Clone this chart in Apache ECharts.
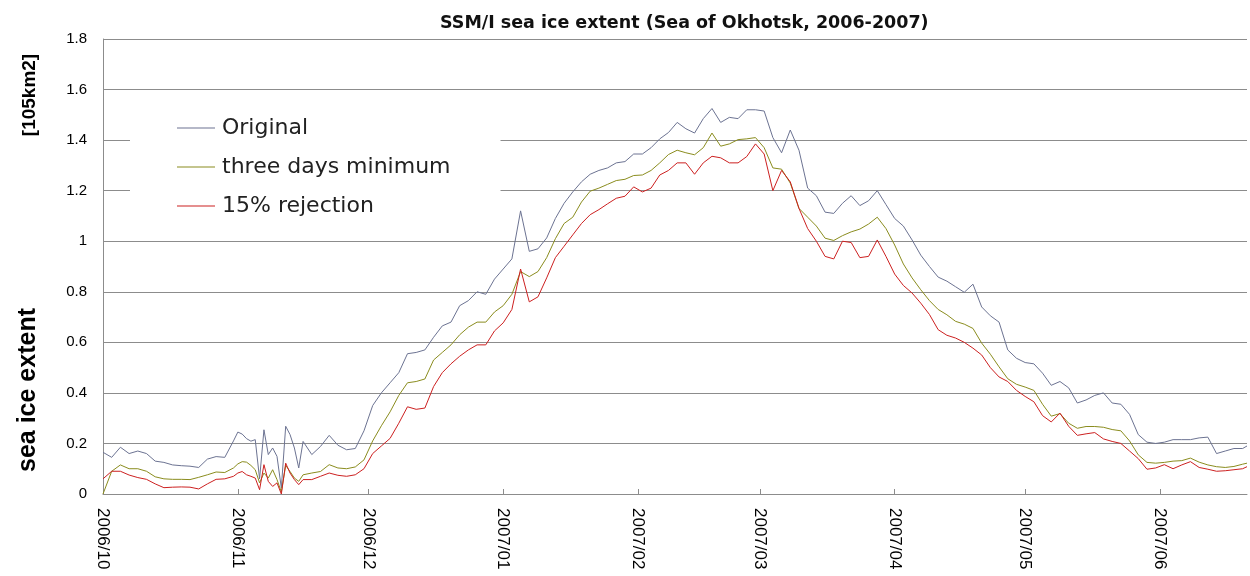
<!DOCTYPE html>
<html>
<head>
<meta charset="utf-8">
<style>
  html, body { margin: 0; padding: 0; background: #fff; }
  #chart { width: 1250px; height: 576px; }
</style>
<script src="https://cdn.jsdelivr.net/npm/echarts@6/dist/echarts.min.js"></script>
</head>
<body>
<div id="chart"></div>
<script>
// day offsets from 2006/10/01 (daily through the noisy part of November)
const days = [
  0, 2, 4, 6, 8, 10, 12, 14, 16, 18, 20, 22, 24, 26, 28, 30,
  31, 32, 33, 34, 35, 36, 37, 38, 39, 40, 41, 42, 43, 44, 45, 46,
  48, 50, 52, 54, 56, 58, 60, 62, 64, 66, 68, 70, 72, 74, 76, 78, 80, 82, 84, 86, 88, 90, 92, 94, 96, 98,
  100, 102, 104, 106, 108, 110, 112, 114, 116, 118, 120, 122, 124, 126, 128, 130, 132, 134, 136, 138, 140, 142, 144, 146, 148,
  150, 152, 154, 156, 158, 160, 162, 164, 166, 168, 170, 172, 174, 176, 178, 180, 182, 184, 186, 188, 190, 192, 194, 196, 198,
  200, 202, 204, 206, 208, 210, 212, 214, 216, 218, 220, 222, 224, 226, 228, 230, 232, 234, 236, 238, 240, 242, 244, 246, 248,
  250, 252, 254, 256, 258, 260, 262, 263
];
const original = [
  0.165, 0.145, 0.185, 0.16, 0.17, 0.16, 0.13, 0.125, 0.115, 0.112, 0.11, 0.105, 0.138, 0.148, 0.145, 0.21,
  0.245, 0.237, 0.219, 0.209, 0.215, 0.06, 0.254, 0.156, 0.182, 0.149, 0.024, 0.268, 0.235, 0.182, 0.103, 0.208,
  0.156, 0.188, 0.232, 0.193, 0.175, 0.18, 0.25, 0.35, 0.40, 0.44, 0.48, 0.555, 0.56, 0.57, 0.62, 0.665, 0.68, 0.745, 0.765, 0.80, 0.79, 0.85, 0.89, 0.93, 1.12, 0.96,
  0.97, 1.013, 1.09, 1.15, 1.195, 1.235, 1.265, 1.28, 1.29, 1.31, 1.315, 1.345, 1.345, 1.37, 1.405, 1.43, 1.47, 1.445, 1.428, 1.485, 1.525, 1.47, 1.49, 1.485, 1.52,
  1.52, 1.515, 1.41, 1.35, 1.44, 1.36, 1.21, 1.18, 1.115, 1.11, 1.15, 1.18, 1.141, 1.16, 1.2, 1.145, 1.09, 1.06, 1.005, 0.945, 0.9, 0.858, 0.842, 0.82, 0.798,
  0.83, 0.74, 0.705, 0.68, 0.57, 0.537, 0.52, 0.515, 0.478, 0.43, 0.445, 0.42, 0.36, 0.372, 0.39, 0.40, 0.36, 0.355, 0.315, 0.235, 0.205, 0.2, 0.205, 0.215, 0.215,
  0.215, 0.222, 0.225, 0.16, 0.17, 0.18, 0.18, 0.19
];
const threeDayMin = [
  0.0, 0.09, 0.115, 0.1, 0.1, 0.09, 0.068, 0.06, 0.058, 0.058, 0.057, 0.066, 0.076, 0.087, 0.085, 0.103,
  0.119, 0.128, 0.126, 0.113, 0.096, 0.044, 0.083, 0.063, 0.096, 0.057, 0.008, 0.113, 0.089, 0.063, 0.05, 0.076,
  0.083, 0.089, 0.116, 0.103, 0.1, 0.107, 0.135, 0.21, 0.27, 0.325, 0.39, 0.44, 0.445, 0.455, 0.53, 0.56, 0.59, 0.63, 0.66, 0.68, 0.68, 0.72, 0.745, 0.79, 0.88, 0.86,
  0.88, 0.935, 1.01, 1.07, 1.095, 1.155, 1.198, 1.21, 1.225, 1.24, 1.245, 1.26, 1.262, 1.28, 1.31, 1.343, 1.36, 1.35, 1.342, 1.37, 1.428, 1.376, 1.385, 1.402, 1.405,
  1.41, 1.37, 1.29, 1.285, 1.23, 1.13, 1.095, 1.06, 1.012, 1.003, 1.022, 1.037, 1.048, 1.068, 1.095, 1.05, 0.985, 0.91, 0.855, 0.808, 0.765, 0.73, 0.709, 0.683, 0.672,
  0.655, 0.597, 0.553, 0.503, 0.456, 0.434, 0.423, 0.41, 0.355, 0.308, 0.318, 0.28, 0.26, 0.267, 0.267, 0.264, 0.255, 0.25, 0.21, 0.155, 0.125, 0.122, 0.125, 0.13, 0.132,
  0.142, 0.126, 0.115, 0.108, 0.105, 0.109, 0.118, 0.122
];
const rejection15 = [
  0.06, 0.09, 0.09, 0.075, 0.065, 0.058, 0.04, 0.025, 0.027, 0.028, 0.027, 0.02, 0.04, 0.058, 0.06, 0.07,
  0.083, 0.089, 0.076, 0.07, 0.063, 0.017, 0.116, 0.05, 0.03, 0.044, 0.0, 0.122, 0.083, 0.057, 0.037, 0.057,
  0.057, 0.07, 0.083, 0.074, 0.07, 0.076, 0.10, 0.16, 0.19, 0.22, 0.28, 0.345, 0.335, 0.34, 0.425, 0.48, 0.515, 0.545, 0.57, 0.59, 0.59, 0.645, 0.677, 0.73, 0.89, 0.76,
  0.78, 0.855, 0.935, 0.98, 1.025, 1.07, 1.105, 1.125, 1.148, 1.17, 1.178, 1.215, 1.195, 1.21, 1.262, 1.28, 1.31, 1.31, 1.265, 1.31, 1.336, 1.33, 1.31, 1.31, 1.335,
  1.385, 1.345, 1.2, 1.28, 1.235, 1.13, 1.05, 1.0, 0.94, 0.93, 1.0, 0.995, 0.935, 0.94, 1.005, 0.94, 0.87, 0.825, 0.795, 0.755, 0.71, 0.65, 0.628, 0.617, 0.6,
  0.577, 0.55, 0.5, 0.463, 0.445, 0.41, 0.386, 0.365, 0.31, 0.285, 0.32, 0.268, 0.232, 0.238, 0.243, 0.218, 0.208, 0.2, 0.17, 0.14, 0.098, 0.103, 0.116, 0.1, 0.115,
  0.128, 0.105, 0.098, 0.09, 0.092, 0.096, 0.1, 0.108
];
const seriesNames = ["Original", "three days minimum", "15% rejection"];
const seriesColors = ["#6c7392", "#8a8c1e", "#cc2020"];
const monthStarts = [0, 31, 61, 92, 123, 151, 182, 212, 243];
const monthLabels = ["2006/10", "2006/11", "2006/12", "2007/01", "2007/02", "2007/03", "2007/04", "2007/05", "2007/06"];
const lastDay = 263;

function pairs(values) {
  return days.map((d, i) => [d, values[i]]);
}

const chart = echarts.init(document.getElementById("chart"));
const gridColor = "#8c8c8c";

chart.setOption({
  animation: false,
  backgroundColor: "#fff",
  title: {
    text: "SSM/I sea ice extent (Sea of Okhotsk, 2006-2007)",
    left: 435,
    top: 9,
    textStyle: { fontFamily: "DejaVu Sans", fontWeight: "bold", fontSize: 17.5, color: "#111" }
  },
  legend: {
    orient: "vertical",
    left: 130,
    top: 102,
    padding: [15, 50, 10, 47],
    backgroundColor: "#fff",
    icon: "rect",
    itemWidth: 38,
    itemHeight: 1,
    itemGap: 17,
    data: seriesNames,
    textStyle: { fontFamily: "DejaVu Sans", fontSize: 22, lineHeight: 22, color: "#222", padding: [0, 0, 0, 2] }
  },
  grid: { left: 103, right: 3, top: 39, bottom: 82 },
  xAxis: {
    type: "value",
    min: 0,
    max: lastDay,
    splitLine: { show: false },
    axisLine: { lineStyle: { color: gridColor } },
    axisTick: { show: true, inside: true, length: 5, customValues: monthStarts, lineStyle: { color: gridColor } },
    axisLabel: {
      customValues: monthStarts,
      rotate: -90,
      margin: 14,
      fontFamily: "Liberation Sans",
      fontSize: 17,
      color: "#000",
      formatter: v => monthLabels[monthStarts.indexOf(v)]
    }
  },
  yAxis: {
    type: "value",
    min: 0,
    max: 1.8,
    interval: 0.2,
    axisLine: { show: true, lineStyle: { color: gridColor } },
    axisTick: { show: false },
    splitLine: { lineStyle: { color: gridColor } },
    axisLabel: {
      margin: 16,
      fontFamily: "Liberation Sans",
      fontSize: 15,
      color: "#000",
      formatter: v => String(parseFloat(v.toFixed(1)))
    }
  },
  graphic: [
    {
      type: "text", x: 30, y: 95, rotation: Math.PI / 2,
      style: { text: "[105km2]", font: "bold 19px 'Liberation Sans'", fill: "#000", align: "center", verticalAlign: "middle" }
    },
    {
      type: "text", x: 28, y: 390, rotation: Math.PI / 2,
      style: { text: "sea ice extent", font: "bold 25px 'Liberation Sans'", fill: "#000", align: "center", verticalAlign: "middle" }
    }
  ],
  series: [original, threeDayMin, rejection15].map((values, i) => ({
    name: seriesNames[i],
    type: "line",
    symbol: "none",
    data: pairs(values),
    lineStyle: { width: 1, color: seriesColors[i] },
    itemStyle: { color: seriesColors[i] }
  }))
});
</script>
</body>
</html>
